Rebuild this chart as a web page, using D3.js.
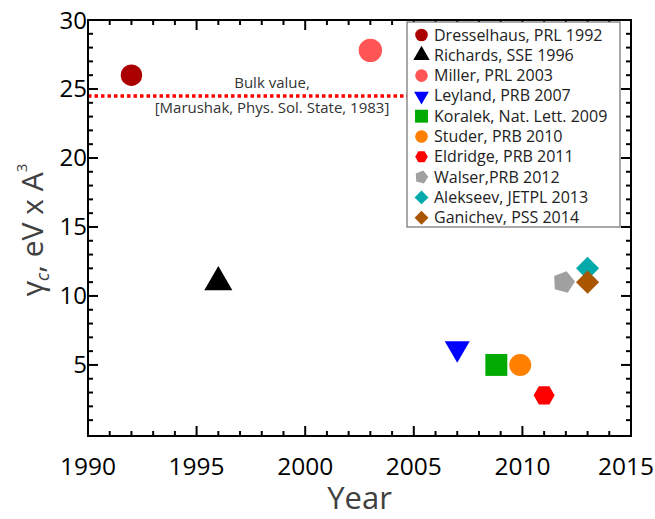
<!DOCTYPE html>
<html>
<head>
<meta charset="utf-8">
<script src="https://cdn.jsdelivr.net/npm/d3@7"></script>
<style>
  body { margin: 0; background: #fff; }
  svg { font-family: "Open Sans", sans-serif; }
</style>
</head>
<body>
<svg id="chart" width="655" height="519"></svg>
<script>
// data
const refs = ["Dresselhaus, PRL 1992", "Richards, SSE 1996", "Miller, PRL 2003", "Leyland, PRB 2007",
  "Koralek, Nat. Lett. 2009", "Studer, PRB 2010", "Eldridge, PRB 2011", "Walser,PRB 2012",
  "Alekseev, JETPL 2013", "Ganichev, PSS 2014"]
const years = [1992, 1996, 2003, 2007, 2008.8, 2009.9, 2011, 2011.9, 2013, 2013]
const gammas = [26, 11, 27.8, 6.2, 5, 5, 2.8, 11, 12, 11]
const colors = ["#aa0000", "#000000", "#ff5555", "#0000ff", "#00aa00", "#ff8000", "#ff0000", "#a0a0a0", "#00aaaa", "#aa5500"]
const shapes = ["circle", "triUp", "circle", "triDown", "square", "circle", "hexagon", "pentagon", "diamond", "diamond"]
const xTicks = [1990, 1995, 2000, 2005, 2010, 2015]
const yTicks = [5, 10, 15, 20, 25, 30]
const bulkValue = 24.5

const svg = d3.select("#chart")
const m = { left: 88, right: 631, top: 20, bottom: 436 }

const x = d3.scaleLinear().domain([1990, 2015]).range([m.left, m.right])
const y = d3.scaleLinear().domain([-0.15, 30]).range([m.bottom, m.top])

// polygon path around (0,0)
function poly(n, r, rot) {
  const pts = d3.range(n).map(i => {
    const a = (rot + i * 360 / n) * Math.PI / 180
    return [r * Math.cos(a), r * Math.sin(a)]
  })
  return d3.line()(pts) + "Z"
}
function shapePath(kind, s) {
  if (kind == "circle") return d3.symbol(d3.symbolCircle, Math.PI * s * s)()
  if (kind == "triUp") return poly(3, s * 1.5, -90)
  if (kind == "triDown") return poly(3, s * 1.35, 90)
  if (kind == "square") return poly(4, s * 1.45, 45)
  if (kind == "hexagon") return poly(6, s * 1.0, 0)
  if (kind == "pentagon") return poly(5, s * 1.08, -75)
  if (kind == "diamond") return poly(4, s * 1.1, 0)
}
const plotSize = [10.7, 10.8, 11.7, 10.7, 10.7, 11, 10.5, 10.5, 10.5, 10.5]

// bulk value dotted line
svg.append("line")
  .attr("x1", x(1990)).attr("x2", x(2005))
  .attr("y1", y(bulkValue)).attr("y2", y(bulkValue))
  .attr("stroke", "#ff0000")
  .attr("stroke-width", 3.5)
  .attr("stroke-dasharray", "3.5,3")

svg.append("text")
  .attr("x", 272).attr("y", y(bulkValue) - 8)
  .attr("text-anchor", "middle")
  .attr("font-size", 15).attr("fill", "#333")
  .text("Bulk value,")
svg.append("text")
  .attr("x", 272).attr("y", y(bulkValue) + 17)
  .attr("text-anchor", "middle")
  .attr("font-size", 15).attr("fill", "#333")
  .text("[Marushak, Phys. Sol. State, 1983]")

// points
svg.selectAll(".pt")
  .data(refs)
  .enter()
  .append("path")
  .attr("class", "pt")
  .attr("transform", (d, i) => `translate(${x(years[i])},${y(gammas[i])})`)
  .attr("d", (d, i) => shapePath(shapes[i], plotSize[i]))
  .attr("fill", (d, i) => colors[i])

// axes: inward ticks on all four sides
const minorX = d3.range(1990, 2016, 1)
const minorY = d3.range(1, 31, 1)
function tickLen(v, step) { return v % step == 0 ? 10 : 5 }

const axes = svg.append("g").attr("stroke", "#000").attr("stroke-width", 2)
axes.append("rect")
  .attr("x", m.left).attr("y", m.top)
  .attr("width", m.right - m.left).attr("height", m.bottom - m.top)
  .attr("fill", "none")

axes.selectAll(".xb").data(minorX).enter().append("line")
  .attr("x1", d => x(d)).attr("x2", d => x(d))
  .attr("y1", m.bottom).attr("y2", d => m.bottom - tickLen(d, 5))
axes.selectAll(".xt").data(minorX).enter().append("line")
  .attr("x1", d => x(d)).attr("x2", d => x(d))
  .attr("y1", m.top).attr("y2", d => m.top + tickLen(d, 5))
axes.selectAll(".yl").data(minorY).enter().append("line")
  .attr("y1", d => y(d)).attr("y2", d => y(d))
  .attr("x1", m.left).attr("x2", d => m.left + tickLen(d, 5))
axes.selectAll(".yr").data(minorY).enter().append("line")
  .attr("y1", d => y(d)).attr("y2", d => y(d))
  .attr("x1", m.right).attr("x2", d => m.right - tickLen(d, 5))

// the last year label sits flush against the right edge, as in the original
svg.selectAll(".xl").data(xTicks).enter().append("text")
  .attr("x", (d, i) => i == xTicks.length - 1 ? 654 : x(d)).attr("y", 475)
  .attr("text-anchor", (d, i) => i == xTicks.length - 1 ? "end" : "middle")
  .attr("font-size", 24.5)
  .text(d => d)
svg.selectAll(".ylab").data(yTicks).enter().append("text")
  .attr("x", m.left - 1).attr("y", d => y(d) + 8.5)
  .attr("text-anchor", "end")
  .attr("font-size", 24)
  .text(d => d)

// axis titles
svg.append("text")
  .attr("x", (m.left + m.right) / 2).attr("y", 509)
  .attr("text-anchor", "middle")
  .attr("font-size", 31).attr("fill", "#404040")
  .text("Year")

const yt = svg.append("text")
  .attr("transform", `translate(43,${(m.top + m.bottom) / 2 + 2}) rotate(-90)`)
  .attr("text-anchor", "middle")
  .attr("font-size", 30).attr("fill", "#404040")
yt.append("tspan").text("γ")
yt.append("tspan").attr("font-size", 18).attr("font-style", "italic").attr("dy", 6).text("c")
yt.append("tspan").attr("dy", -6).text(", eV x A")
yt.append("tspan").attr("font-size", 15).attr("dy", -16).text("3")

// legend
const lg = svg.append("g").attr("transform", "translate(407,22)")
lg.append("rect")
  .attr("width", 213).attr("height", 205)
  .attr("fill", "#fff").attr("stroke", "#555").attr("stroke-width", 1)
const row = lg.selectAll(".row").data(refs).enter().append("g")
  .attr("transform", (d, i) => `translate(0,${13 + i * 20.3})`)
row.append("path")
  .attr("transform", "translate(14.5,0)")
  .attr("d", (d, i) => shapePath(shapes[i], 6.3))
  .attr("fill", (d, i) => colors[i])
row.append("text")
  .attr("x", 27).attr("y", 5.5)
  .attr("font-size", 16).attr("fill", "#222")
  .text(d => d)
</script>
</body>
</html>
